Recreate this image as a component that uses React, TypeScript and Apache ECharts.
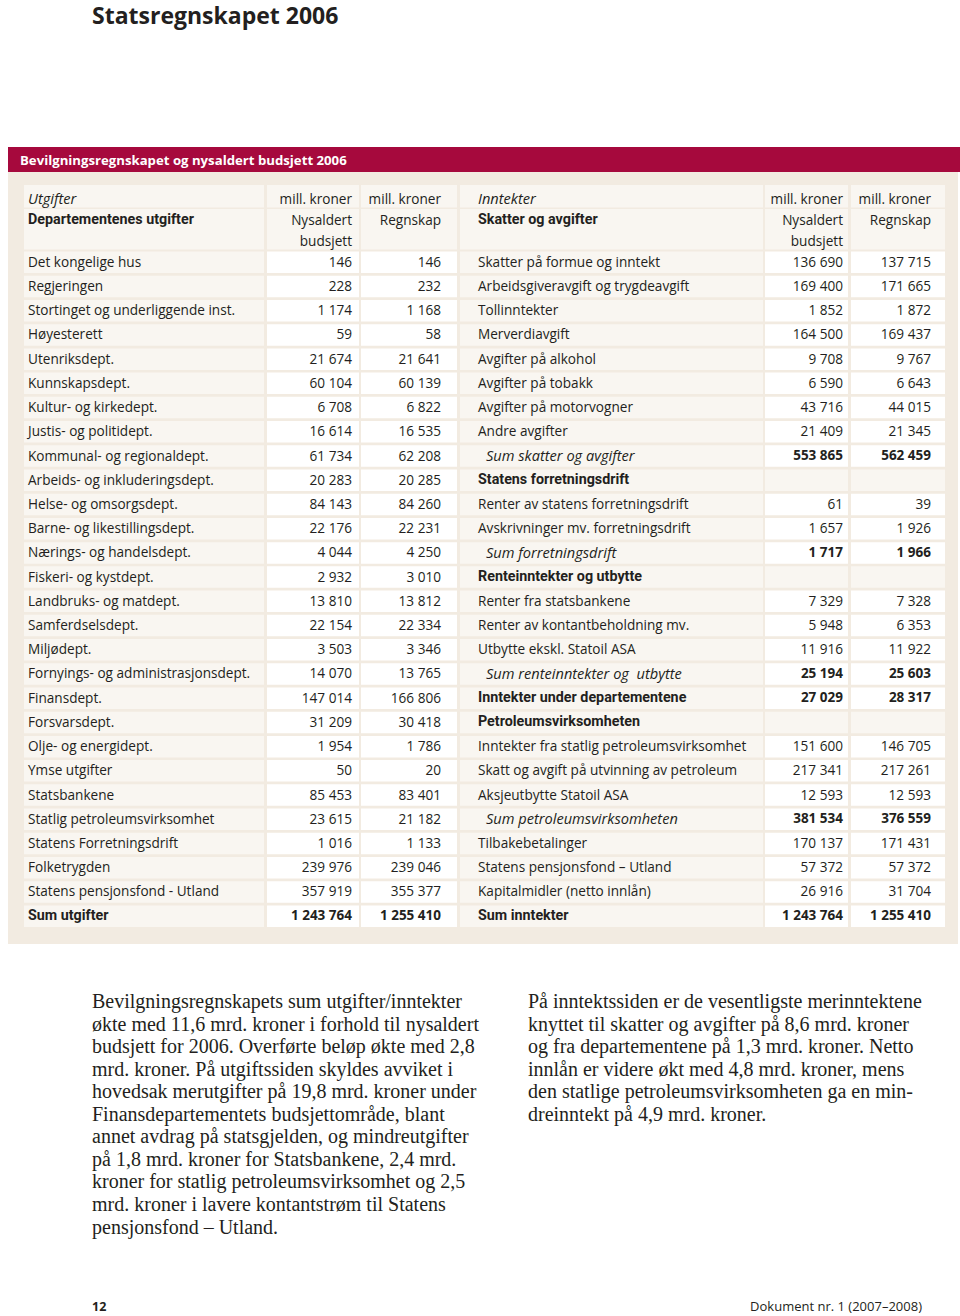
import React, { useEffect, useRef } from "react";
import * as echarts from "echarts";

// ---------- Data ----------
const pageTitle = "Statsregnskapet 2006";
const tableTitle = "Bevilgningsregnskapet og nysaldert budsjett 2006";
const unitLabel = "mill. kroner";
const colBudget = ["Nysaldert", "budsjett"];
const colAccounts = "Regnskap";

const expenseHeader = "Utgifter";
const expenseGroup = "Departementenes utgifter";
const expenseLabels = [
  "Det kongelige hus",
  "Regjeringen",
  "Stortinget og underliggende inst.",
  "Høyesterett",
  "Utenriksdept.",
  "Kunnskapsdept.",
  "Kultur- og kirkedept.",
  "Justis- og politidept.",
  "Kommunal- og regionaldept.",
  "Arbeids- og inkluderingsdept.",
  "Helse- og omsorgsdept.",
  "Barne- og likestillingsdept.",
  "Nærings- og handelsdept.",
  "Fiskeri- og kystdept.",
  "Landbruks- og matdept.",
  "Samferdselsdept.",
  "Miljødept.",
  "Fornyings- og administrasjonsdept.",
  "Finansdept.",
  "Forsvarsdept.",
  "Olje- og energidept.",
  "Ymse utgifter",
  "Statsbankene",
  "Statlig petroleumsvirksomhet",
  "Statens Forretningsdrift",
  "Folketrygden",
  "Statens pensjonsfond - Utland",
  "Sum utgifter",
];
const expenseBudget = [
  146, 228, 1174, 59, 21674, 60104, 6708, 16614, 61734, 20283, 84143, 22176,
  4044, 2932, 13810, 22154, 3503, 14070, 147014, 31209, 1954, 50, 85453,
  23615, 1016, 239976, 357919, 1243764,
];
const expenseAccounts = [
  146, 232, 1168, 58, 21641, 60139, 6822, 16535, 62208, 20285, 84260, 22231,
  4250, 3010, 13812, 22334, 3346, 13765, 166806, 30418, 1786, 20, 83401,
  21182, 1133, 239046, 355377, 1255410,
];
const expenseKinds = [
  "item", "item", "item", "item", "item", "item", "item", "item", "item",
  "item", "item", "item", "item", "item", "item", "item", "item", "item",
  "item", "item", "item", "item", "item", "item", "item", "item", "item",
  "total",
];

const incomeHeader = "Inntekter";
const incomeGroup = "Skatter og avgifter";
const incomeLabels = [
  "Skatter på formue og inntekt",
  "Arbeidsgiveravgift og trygdeavgift",
  "Tollinntekter",
  "Merverdiavgift",
  "Avgifter på alkohol",
  "Avgifter på tobakk",
  "Avgifter på motorvogner",
  "Andre avgifter",
  "Sum skatter og avgifter",
  "Statens forretningsdrift",
  "Renter av statens forretningsdrift",
  "Avskrivninger mv. forretningsdrift",
  "Sum forretningsdrift",
  "Renteinntekter og utbytte",
  "Renter fra statsbankene",
  "Renter av kontantbeholdning mv.",
  "Utbytte ekskl. Statoil ASA",
  "Sum renteinntekter og  utbytte",
  "Inntekter under departementene",
  "Petroleumsvirksomheten",
  "Inntekter fra statlig petroleumsvirksomhet",
  "Skatt og avgift på utvinning av petroleum",
  "Aksjeutbytte Statoil ASA",
  "Sum petroleumsvirksomheten",
  "Tilbakebetalinger",
  "Statens pensjonsfond – Utland",
  "Kapitalmidler (netto innlån)",
  "Sum inntekter",
];
const incomeBudget = [
  136690, 169400, 1852, 164500, 9708, 6590, 43716, 21409, 553865, null, 61,
  1657, 1717, null, 7329, 5948, 11916, 25194, 27029, null, 151600, 217341,
  12593, 381534, 170137, 57372, 26916, 1243764,
];
const incomeAccounts = [
  137715, 171665, 1872, 169437, 9767, 6643, 44015, 21345, 562459, null, 39,
  1926, 1966, null, 7328, 6353, 11922, 25603, 28317, null, 146705, 217261,
  12593, 376559, 171431, 57372, 31704, 1255410,
];
const incomeKinds = [
  "item", "item", "item", "item", "item", "item", "item", "item", "sum",
  "head", "item", "item", "sum", "head", "item", "item", "item", "sum",
  "total", "head", "item", "item", "item", "sum", "item", "item", "item",
  "total",
];

const leftParagraph = [
  "Bevilgningsregnskapets sum utgifter/inntekter",
  "økte med 11,6 mrd. kroner i forhold til nysaldert",
  "budsjett for 2006. Overførte beløp økte med 2,8",
  "mrd. kroner. På utgiftssiden skyldes avviket i",
  "hovedsak merutgifter på 19,8 mrd. kroner under",
  "Finansdepartementets budsjettområde, blant",
  "annet avdrag på statsgjelden, og mindreutgifter",
  "på 1,8 mrd. kroner for Statsbankene, 2,4 mrd.",
  "kroner for statlig petroleumsvirksomhet og 2,5",
  "mrd. kroner i lavere kontantstrøm til Statens",
  "pensjonsfond – Utland.",
];
const rightParagraph = [
  "På inntektssiden er de vesentligste merinntektene",
  "knyttet til skatter og avgifter på 8,6 mrd. kroner",
  "og fra departementene på 1,3 mrd. kroner. Netto",
  "innlån er videre økt med 4,8 mrd. kroner, mens",
  "den statlige petroleumsvirksomheten ga en min-",
  "dreinntekt på 4,9 mrd. kroner.",
];
const pageNumber = "12";
const documentRef = "Dokument nr. 1 (2007–2008)";

// ---------- Layout / style ----------
const SANS = "'Open Sans', 'Noto Sans', sans-serif";
const SANS_B = "Roboto, 'Open Sans', sans-serif";
const SERIF = "'Liberation Serif', 'DejaVu Serif', serif";
const INK = "#231f20";
const RED = "#a6093d";
const PANEL = "#f2ebe1";
const LIGHT = "#f9f6f1";
const WHITE = "#ffffff";
const FS = 13.6;
const F_REG = `${FS}px ${SANS}`;
const F_BOLD_LABEL = `bold 14.3px ${SANS_B}`;
const F_BOLD_NUM = `bold 13.5px ${SANS}`;
const F_ITAL = `italic 14.6px ${SANS}`;

const ROW0 = 251.5;
const PITCH = 24.22;
const CELL_H = 21.5;

const fmt = (v: number | null) =>
  v === null ? "" : String(v).replace(/\B(?=(\d{3})+(?!\d))/g, " ");

type Side = {
  labelX: number;
  labelW: number;
  textX: number;
  c1X: number;
  c1W: number;
  c1T: number;
  c2X: number;
  c2W: number;
  c2T: number;
};
const LEFT: Side = { labelX: 24, labelW: 240, textX: 28, c1X: 267, c1W: 92, c1T: 352, c2X: 361, c2W: 96, c2T: 441 };
const RIGHT: Side = { labelX: 460, labelW: 303, textX: 478, c1X: 765, c1W: 83, c1T: 843, c2X: 851, c2W: 94, c2T: 931 };

function txt(x: number, y: number, text: string, font: string, align = "left", fill = INK) {
  return {
    type: "text",
    silent: true,
    style: { x, y, text, font, fill, align, verticalAlign: "middle" },
  };
}
function box(x: number, y: number, w: number, h: number, fill: string) {
  return { type: "rect", silent: true, shape: { x, y, width: w, height: h }, style: { fill } };
}

function buildSide(
  s: Side,
  header: string,
  group: string,
  labels: string[],
  budget: (number | null)[],
  accounts: (number | null)[],
  kinds: string[]
) {
  const els: any[] = [];
  // header row 1
  els.push(box(s.labelX, 185, s.labelW, 22.5, LIGHT));
  els.push(box(s.c1X, 185, s.c1W, 22.5, LIGHT));
  els.push(box(s.c2X, 185, s.c2W, 22.5, LIGHT));
  els.push(txt(s.textX, 198, header, F_ITAL));
  els.push(txt(s.c1T, 198, unitLabel, F_REG, "right"));
  els.push(txt(s.c2T, 198, unitLabel, F_REG, "right"));
  // header row 2
  els.push(box(s.labelX, 209, s.labelW, 40.5, LIGHT));
  els.push(box(s.c1X, 209, s.c1W, 40.5, LIGHT));
  els.push(box(s.c2X, 209, s.c2W, 40.5, LIGHT));
  els.push(txt(s.textX, 219, group, F_BOLD_LABEL));
  els.push(txt(s.c1T, 219, colBudget[0], F_REG, "right"));
  els.push(txt(s.c1T, 240, colBudget[1], F_REG, "right"));
  els.push(txt(s.c2T, 219, colAccounts, F_REG, "right"));

  labels.forEach((lab, i) => {
    const top = ROW0 + PITCH * i;
    const cy = top + CELL_H / 2 - 1;
    const kind = kinds[i];
    const hasVal = budget[i] !== null;
    els.push(box(s.labelX, top, s.labelW, CELL_H, LIGHT));
    els.push(box(s.c1X, top, s.c1W, CELL_H, hasVal ? WHITE : LIGHT));
    els.push(box(s.c2X, top, s.c2W, CELL_H, hasVal ? WHITE : LIGHT));
    let lf = F_REG;
    let lx = s.textX;
    if (kind === "head" || kind === "total") lf = F_BOLD_LABEL;
    if (kind === "sum") {
      lf = F_ITAL;
      lx = s.textX + 8;
    }
    const vf = kind === "sum" || kind === "total" ? F_BOLD_NUM : F_REG;
    els.push(txt(lx, cy, lab, lf));
    if (hasVal) {
      els.push(txt(s.c1T, cy, fmt(budget[i]), vf, "right"));
      els.push(txt(s.c2T, cy, fmt(accounts[i]), vf, "right"));
    }
  });
  return els;
}

export default function App() {
  const ref = useRef<HTMLDivElement>(null);
  useEffect(() => {
    if (!ref.current) return;
    const chart = echarts.init(ref.current, undefined, { renderer: "svg" });
    const els: any[] = [];
    els.push(box(0, 0, 960, 1316, WHITE));
    els.push(txt(92, 15, pageTitle, `bold 23px ${SANS}`));
    els.push(box(8, 147, 952, 25, RED));
    els.push(txt(20, 159.5, tableTitle, `bold 13.2px ${SANS}`, "left", WHITE));
    els.push(box(8, 172, 950, 772, PANEL));
    els.push(...buildSide(LEFT, expenseHeader, expenseGroup, expenseLabels, expenseBudget, expenseAccounts, expenseKinds));
    els.push(...buildSide(RIGHT, incomeHeader, incomeGroup, incomeLabels, incomeBudget, incomeAccounts, incomeKinds));
    leftParagraph.forEach((l, i) => els.push(txt(92, 1001 + 22.55 * i, l, `20px ${SERIF}`)));
    rightParagraph.forEach((l, i) => els.push(txt(528, 1001 + 22.55 * i, l, `20px ${SERIF}`)));
    els.push(txt(92, 1306, pageNumber, `bold 12.5px ${SANS}`));
    els.push(txt(922, 1306, documentRef, `13px ${SANS}`, "right"));
    chart.setOption({ animation: false, graphic: { elements: els } });
    return () => chart.dispose();
  }, []);
  return (
    <div
      ref={ref}
      style={{ position: "absolute", left: 0, top: 0, width: 960, height: 1316, background: "#fff" }}
    />
  );
}
